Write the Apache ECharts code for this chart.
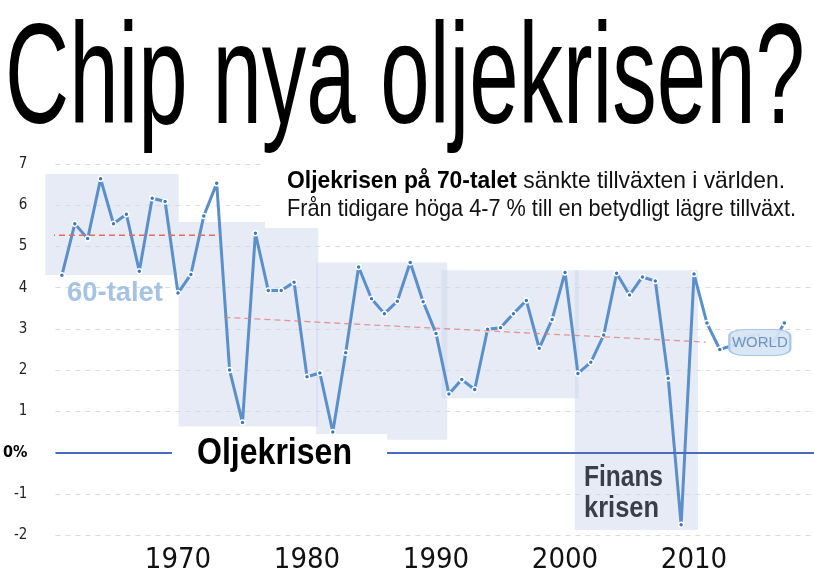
<!DOCTYPE html>
<html>
<head>
<meta charset="utf-8">
<script src="https://cdn.jsdelivr.net/npm/echarts@6/dist/echarts.min.js"></script>
<style>
html,body{margin:0;padding:0;background:#fff;}
#chart{width:814px;height:588px;}
</style>
</head>
<body>
<div id="chart"></div>
<script>
// ---- data ----
const years = [1961,1962,1963,1964,1965,1966,1967,1968,1969,1970,1971,1972,1973,1974,1975,1976,1977,1978,1979,1980,
  1981,1982,1983,1984,1985,1986,1987,1988,1989,1990,1991,1992,1993,1994,1995,1996,1997,1998,1999,2000,
  2001,2002,2003,2004,2005,2006,2007,2008,2009,2010,2011,2012,2013,2014,2015,2016,2017];
const growth = [4.30,5.55,5.19,6.64,5.55,5.78,4.40,6.17,6.09,3.87,4.32,5.74,6.53,2.00,0.73,5.32,3.93,3.93,4.13,1.84,
  1.93,0.50,2.42,4.50,3.73,3.37,3.67,4.61,3.66,2.89,1.42,1.77,1.53,2.99,3.03,3.37,3.69,2.53,3.23,4.37,
  1.92,2.19,2.85,4.35,3.82,4.26,4.16,1.80,-1.75,4.33,3.14,2.50,2.60,2.80,2.85,2.60,3.14];
// shaded periods: [fromYear, toYear, top, bottom]
const periodBoxes = [
  [1959.72, 1970.05, 6.76, 4.31],
  [1970.05, 1980.87, 5.59, 0.63],
  [1980.71, 1990.87, 4.61, 0.31],
  [1990.43, 2001.05, 4.42, 1.32],
  [2000.76, 2010.30, 4.42, -1.88]
];
const trend60 = [[1960.0, 5.27], [1973.3, 5.27]];
const trendLater = [[1973.6, 3.28], [2010.9, 2.68]];
const worldTag = [2015.1, 2.67];
const decadeLabels = [1970, 1980, 1990, 2000, 2010];
const yTicks = {min: -2, max: 7, step: 1};

const lineData = years.map((y, i) => [y, growth[i]]);

// ---- text measuring helper (for condensed type) ----
const mctx = document.createElement('canvas').getContext('2d');
function tw(text, font) { mctx.font = font; return mctx.measureText(text).width; }
const FAM = '"Liberation Sans", Arial, sans-serif';
const NARROW = '"Liberation Sans Narrow", "DejaVu Sans Condensed", "Liberation Sans", sans-serif';

function fitText(text, x, yMid, width, size, weight, color, z) {
  const font = weight + ' ' + size + 'px ' + FAM;
  const s = width / tw(text, font);
  return {
    type: 'text', x: x, y: yMid, scaleX: s, z: z || 100,
    style: {text: text, font: font, fill: color, align: 'left', verticalAlign: 'middle',
            textAlign: 'left', textVerticalAlign: 'middle'}
  };
}

// annotation line 1 (mixed bold/regular)
const a1b = 'Oljekrisen på 70-talet';
const a1r = ' sänkte tillväxten i världen.';
const a1Size = 24;
const a1W = tw(a1b, 'bold ' + a1Size + 'px ' + FAM) + tw(a1r, 'normal ' + a1Size + 'px ' + FAM);
const a1Scale = 498 / a1W;

const chart = echarts.init(document.getElementById('chart'), null, {renderer: 'canvas'});
chart.setOption({
  animation: false,
  backgroundColor: '#fff',
  grid: {left: 52, right: 0, top: 164, bottom: 53, containLabel: false},
  xAxis: {
    type: 'value', min: 1960.5, max: 2019.3,
    axisLine: {show: false}, axisTick: {show: false}, splitLine: {show: false},
    axisLabel: {customValues: decadeLabels, fontSize: 29, color: '#111', margin: 11,
                fontFamily: NARROW, formatter: v => String(v)}
  },
  yAxis: {
    type: 'value', min: yTicks.min, max: yTicks.max, interval: yTicks.step,
    axisLine: {show: false}, axisTick: {show: false},
    splitLine: {show: true, lineStyle: {color: '#dcdcdc', type: [5, 5], width: 1}},
    axisLabel: {
      margin: 28, fontSize: 15, color: '#222', fontFamily: NARROW,
      formatter: v => v === 0 ? '{b|0%}' : String(v),
      rich: {b: {fontWeight: 'bold', fontSize: 16, color: '#000', fontFamily: NARROW}}
    }
  },
  series: [
    {
      type: 'custom', z: 1, clip: false, silent: true,
      data: periodBoxes,
      encode: {x: [0, 1], y: [2, 3]},
      renderItem: function (params, api) {
        const p1 = api.coord([api.value(0), api.value(2)]);
        const p2 = api.coord([api.value(1), api.value(3)]);
        return {type: 'rect', shape: {x: p1[0], y: p1[1], width: p2[0] - p1[0], height: p2[1] - p1[1]},
                style: {fill: 'rgba(205,216,236,0.5)'}};
      }
    },
    {
      name: 'World', type: 'line', z: 3, data: lineData,
      symbol: 'circle', symbolSize: 5, showAllSymbol: true,
      itemStyle: {color: '#3f78b9', borderColor: '#fff', borderWidth: 1.5},
      lineStyle: {color: '#5b8fca', width: 3},
      emphasis: {disabled: true},
      markLine: {
        silent: true, symbol: 'none', label: {show: false},
        lineStyle: {color: '#4a6cc0', width: 2, type: 'solid'},
        data: [{yAxis: 0}]
      },
      markPoint: {
        silent: true,
        data: [{coord: worldTag, value: 'WORLD'}],
        symbol: 'roundRect', symbolSize: [61, 26],
        itemStyle: {color: 'rgba(214,228,243,0.93)', borderColor: '#a9c6e6', borderWidth: 1.5},
        label: {show: true, position: 'inside', formatter: 'WORLD', color: '#6e92bf', fontSize: 15, fontFamily: FAM}
      }
    },
    {
      type: 'line', z: 4, clip: false, data: trend60, symbol: 'none', silent: true,
      lineStyle: {color: '#e26a6a', width: 1.6, type: [6, 4]}
    },
    {
      type: 'line', z: 4, clip: false, data: trendLater, symbol: 'none', silent: true,
      lineStyle: {color: 'rgba(226,120,120,0.75)', width: 1.3, type: [6, 4]}
    }
  ],
  graphic: [
    fitText('Chip nya oljekrisen?', 5, 84, 800, 143, 'normal', '#000', 100),
    {type: 'rect', z: 90, shape: {x: 265, y: 157, width: 549, height: 71}, style: {fill: '#fff'}},
    {
      type: 'text', x: 287, y: 181.5, scaleX: a1Scale, z: 100,
      style: {
        text: '{b|' + a1b + '}' + a1r,
        font: 'normal ' + a1Size + 'px ' + FAM, fontSize: a1Size, fontFamily: FAM, fill: '#111',
        align: 'left', verticalAlign: 'middle', textAlign: 'left', textVerticalAlign: 'middle',
        rich: {b: {fontWeight: 'bold', fontSize: a1Size, fontFamily: FAM, fill: '#000'}}
      }
    },
    fitText('Från tidigare höga 4-7 % till en betydligt lägre tillväxt.', 287, 209, 509, 24, 'normal', '#111', 100),
    fitText('60-talet', 67, 293, 96, 28, 'bold', '#a6c3e3', 100),
    {type: 'rect', z: 90, shape: {x: 172, y: 434, width: 215, height: 42}, style: {fill: '#fff'}},
    fitText('Oljekrisen', 197, 454, 155, 36, 'bold', '#000', 100),
    fitText('Finans', 584, 477.5, 79, 30, 'bold', '#3a3e48', 100),
    fitText('krisen', 584, 509, 75, 30, 'bold', '#3a3e48', 100)
  ]
});
</script>
</body>
</html>
